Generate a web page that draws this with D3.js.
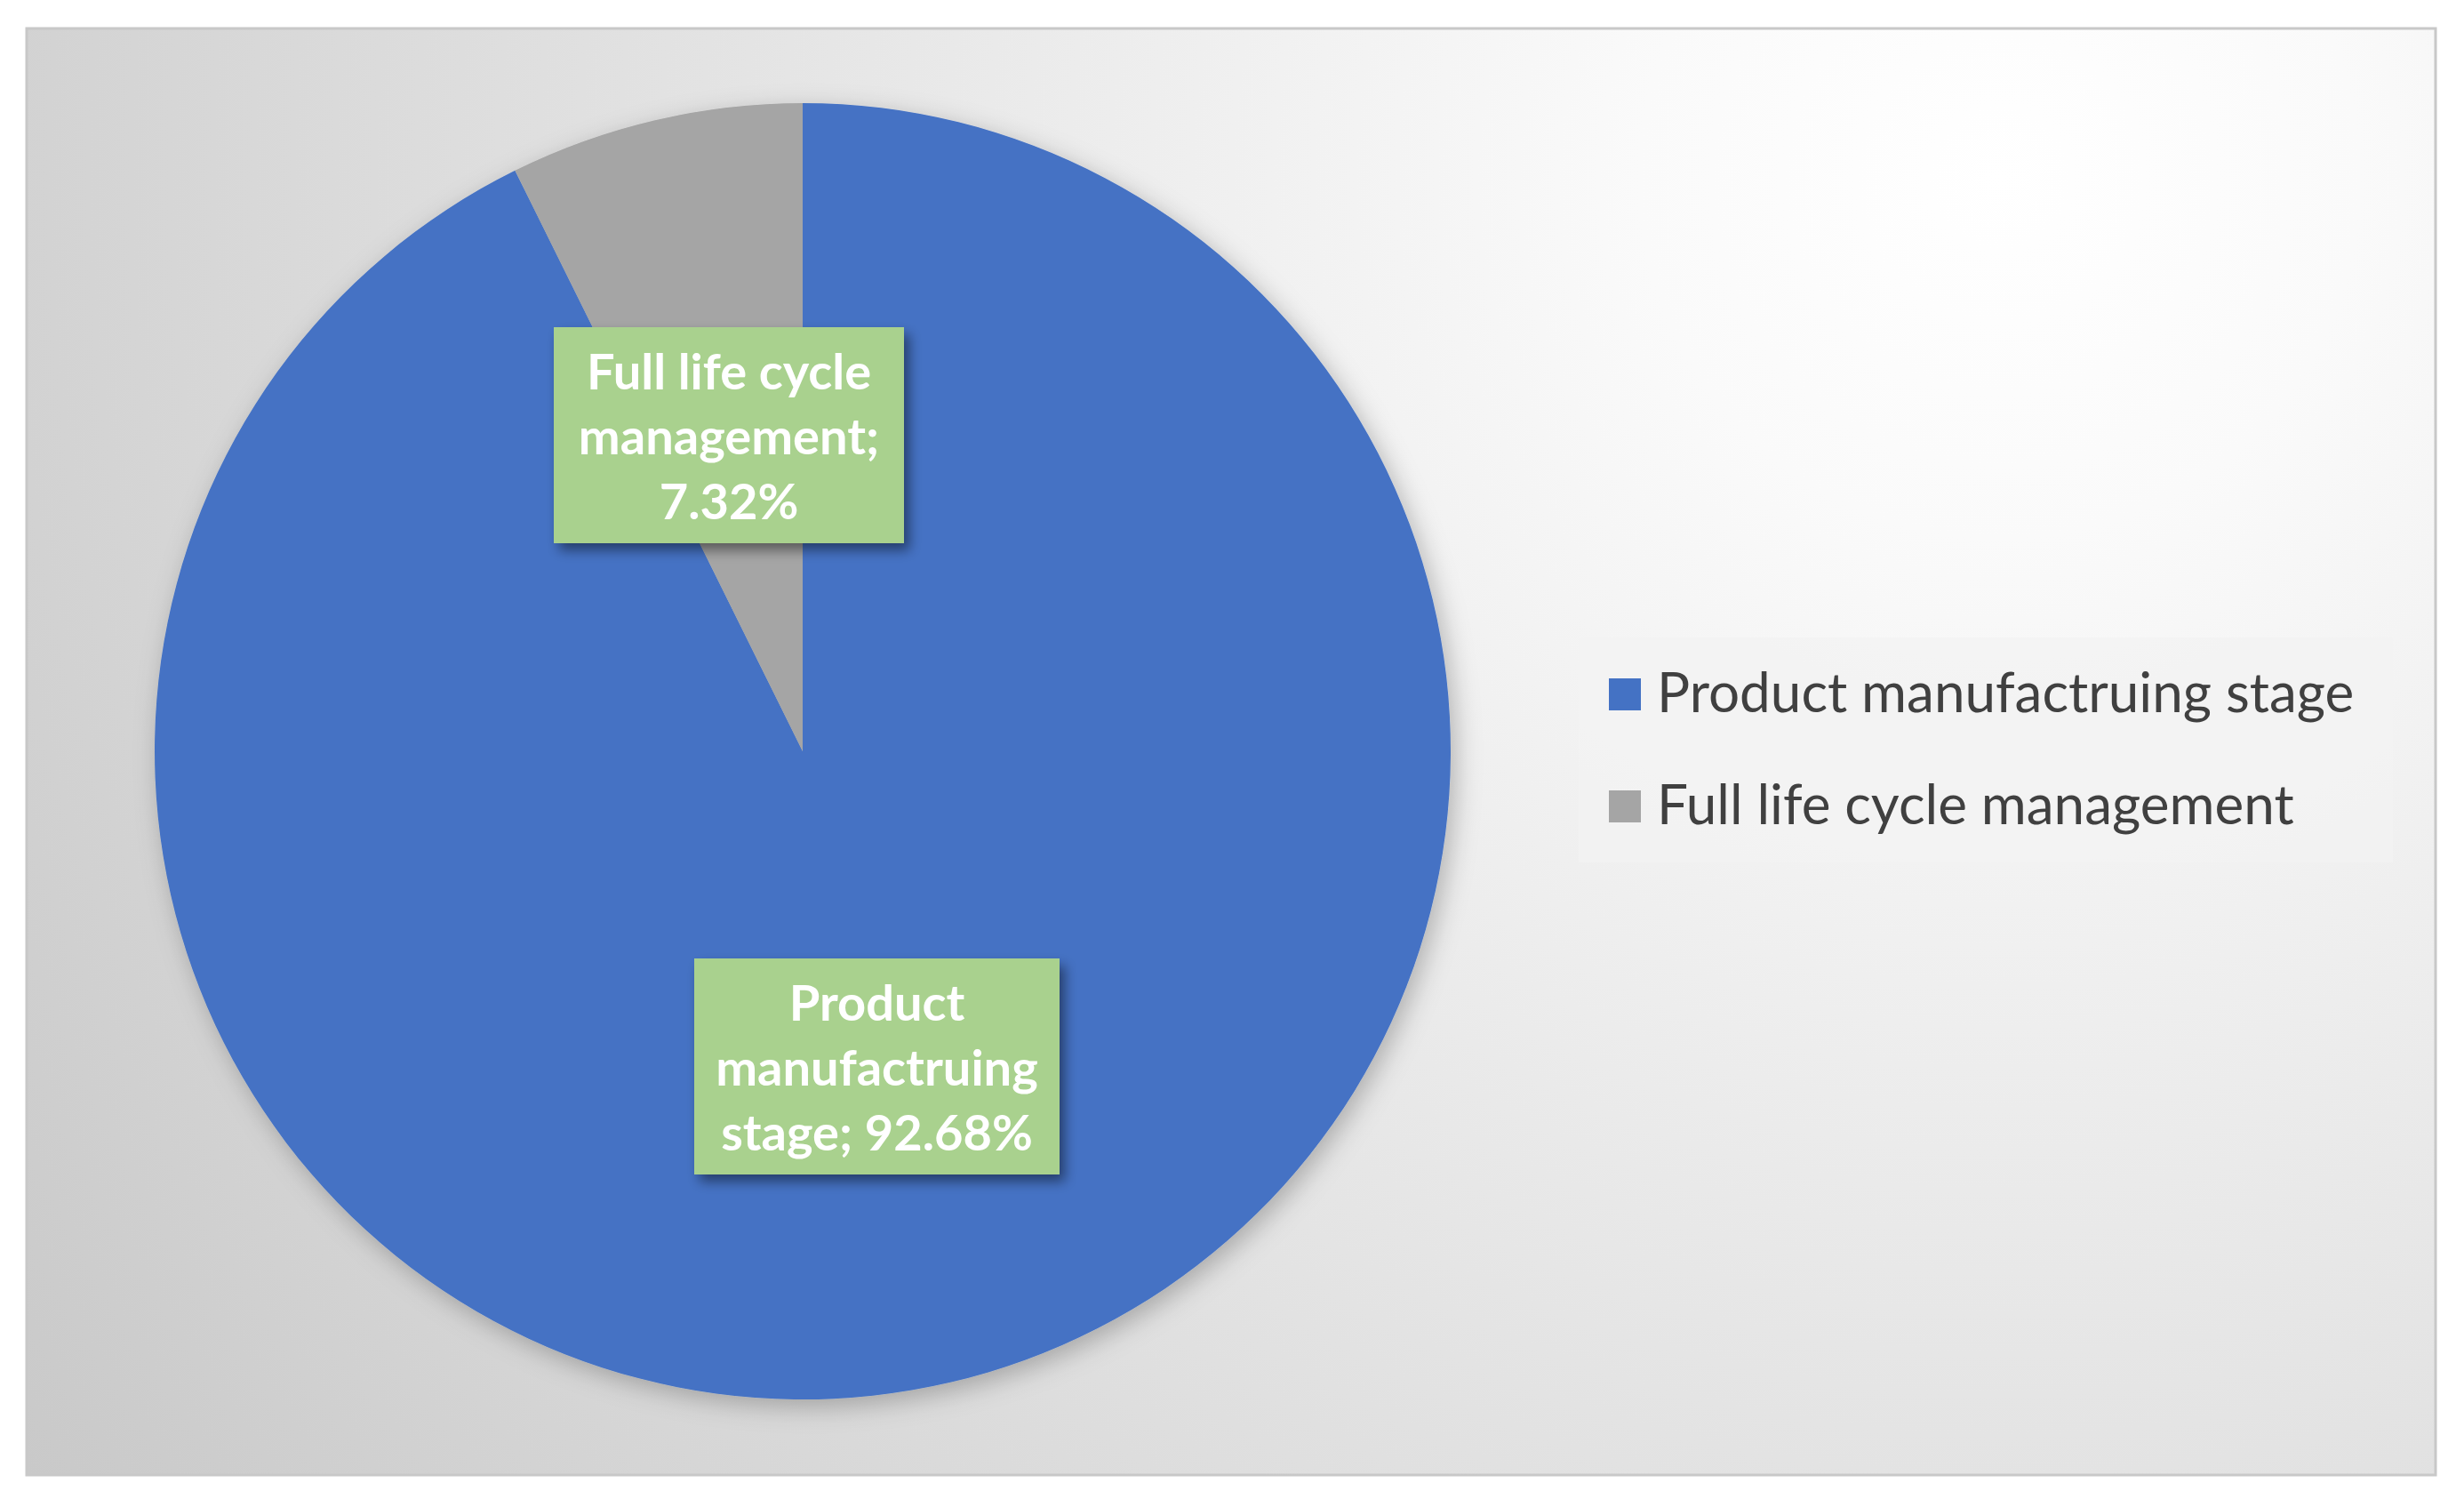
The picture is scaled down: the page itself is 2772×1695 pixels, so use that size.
<!DOCTYPE html>
<html><head><meta charset="utf-8">
<script src="https://cdn.jsdelivr.net/npm/d3@7"></script>
<style>body{margin:0;background:#fff}</style>
</head><body>
<svg id="svg"></svg>
<script>
const categories = ["Product manufactruing stage", "Full life cycle management"];
const values = [92.68, 7.32];
const labelLines = [["Product", "manufactruing", "stage; 92.68%"], ["Full life cycle", "management;", "7.32%"]];
const colors = ["#4472c4", "#a5a5a5"];

const W = 2772, H = 1695;
const svg = d3.select("#svg").attr("width", W).attr("height", H);
const defs = svg.append("defs");
const bg = defs.append("radialGradient").attr("id", "bg")
  .attr("gradientUnits", "userSpaceOnUse")
  .attr("cx", 2250).attr("cy", 200).attr("r", 2700);
bg.append("stop").attr("offset", "0%").attr("stop-color", "#ffffff");
bg.append("stop").attr("offset", "15%").attr("stop-color", "#fafafa");
bg.append("stop").attr("offset", "100%").attr("stop-color", "#c8c8c8");
const sh = defs.append("filter").attr("id", "sh").attr("x", "-20%").attr("y", "-20%").attr("width", "140%").attr("height", "140%");
sh.append("feDropShadow").attr("dx", 6).attr("dy", 8).attr("stdDeviation", 7).attr("flood-color", "#000").attr("flood-opacity", 0.45);
const psh = defs.append("filter").attr("id", "psh").attr("x", "-20%").attr("y", "-20%").attr("width", "140%").attr("height", "140%");
psh.append("feDropShadow").attr("dx", 6).attr("dy", 8).attr("stdDeviation", 14).attr("flood-color", "#000").attr("flood-opacity", 0.25);

svg.append("rect").attr("x", 30).attr("y", 32).attr("width", 2710).attr("height", 1627)
  .attr("fill", "url(#bg)").attr("stroke", "#c8c8c8").attr("stroke-width", 3);

const cx = 903, cy = 845, R = 729;
const pie = d3.pie().sort(null).value(d => d)(values);
const arc = d3.arc().innerRadius(0).outerRadius(R);
const g = svg.append("g").attr("transform", `translate(${cx},${cy})`).attr("filter", "url(#psh)");
g.selectAll("path").data(pie).join("path").attr("d", arc).attr("fill", (d, i) => colors[i]);

// data labels
const boxes = [{x: 781, y: 1078, w: 411, h: 243}, {x: 623, y: 368, w: 394, h: 243}];
boxes.forEach((b, i) => {
  const lg = svg.append("g");
  lg.append("rect").attr("x", b.x).attr("y", b.y).attr("width", b.w).attr("height", b.h)
    .attr("fill", "#a9d18e").attr("filter", "url(#sh)");
  lg.selectAll("text").data(labelLines[i]).join("text")
    .attr("x", b.x + b.w / 2).attr("y", (d, j) => b.y + 70 + j * 73)
    .attr("text-anchor", "middle").attr("fill", "#fff")
    .attr("font-family", "Lato, sans-serif").attr("font-weight", "bold").attr("font-size", 56)
    .text(d => d);
});

// legend
svg.append("rect").attr("x", 1776).attr("y", 717).attr("width", 916).attr("height", 253).attr("fill", "#f2f2f2").attr("opacity", 0.8);
const leg = svg.append("g");
categories.forEach((c, i) => {
  const y = 781 + i * 126;
  leg.append("rect").attr("x", 1810).attr("y", y - 18).attr("width", 36).attr("height", 36).attr("fill", colors[i]);
  leg.append("text").attr("x", 1864).attr("y", y + 20).attr("fill", "#404040")
    .attr("font-family", "Lato, sans-serif").attr("font-size", 62).text(c);
});
</script>
</body></html>
